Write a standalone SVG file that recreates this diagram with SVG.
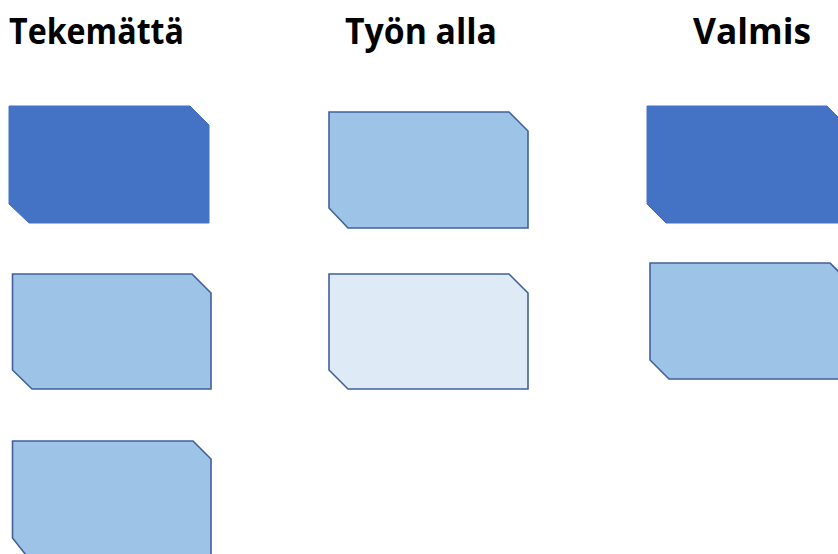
<svg xmlns="http://www.w3.org/2000/svg" width="838" height="554" viewBox="0 0 838 554">
<style>
.t{font-family:"Open Sans","Liberation Sans",sans-serif;font-weight:700;font-size:35px;fill:#000}
.dark{fill:#4472C4;stroke:#4472C4;stroke-width:1}
.light{fill:#9DC3E6;stroke:#41609B;stroke-width:1.6}
.pale{fill:#DEEBF7;stroke:#41609B;stroke-width:1.6}
</style>
<rect width="838" height="554" fill="#fff"/>
<g id="headers">
<text class="t" x="9" y="43.5" textLength="175" lengthAdjust="spacingAndGlyphs">Tekemättä</text>
<text class="t" x="345" y="43.5" textLength="152" lengthAdjust="spacingAndGlyphs">Työn alla</text>
<text class="t" x="693" y="43.5" textLength="118" lengthAdjust="spacingAndGlyphs">Valmis</text>
</g>
<g id="card-t1"><polygon class="dark" points="9,106 190,106 209,125 209,223 29,223 9,204"/></g>
<g id="card-t2"><polygon class="light" points="12.5,274 192,274 211,293 211,389 32,389 12.5,370"/></g>
<g id="card-t3"><polygon class="light" points="12.5,441 193,441 211,459 211,560 30,560 12.5,538"/></g>
<g id="card-w1"><polygon class="light" points="329,112 509,112 528,131 528,228 348,228 329,208"/></g>
<g id="card-w2"><polygon class="pale" points="329,274 509,274 528,293 528,389 348,389 329,370"/></g>
<g id="card-v1"><polygon class="dark" points="647,106 827,106 846,125 846,223 666,223 647,204"/></g>
<g id="card-v2"><polygon class="light" points="650,263 830,263 849,282 849,379 669,379 650,360"/></g>
<g id="connectors"></g>
</svg>
